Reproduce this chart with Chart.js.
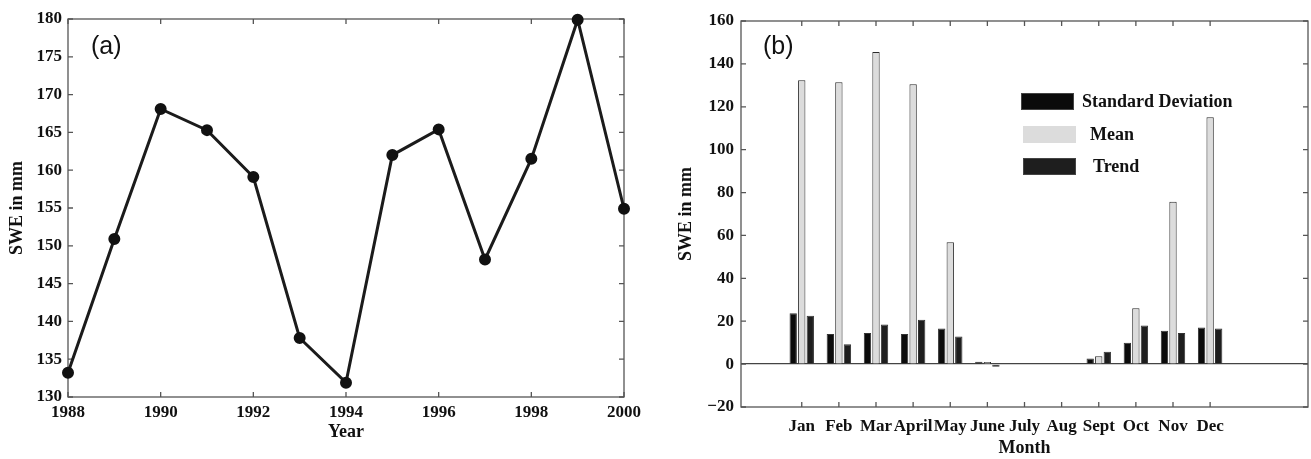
<!DOCTYPE html>
<html>
<head>
<meta charset="utf-8">
<script src="https://cdn.jsdelivr.net/npm/chart.js@4.4.1/dist/chart.umd.min.js"></script>
<style>
  body { margin: 0; background: #fff; }
  #wrap { position: relative; width: 1311px; height: 459px; }
  canvas { position: absolute; top: 0; }
  #swe { left: 0; }
  #monthly { left: 655px; }
</style>
</head>
<body>
<div id="wrap">
  <canvas id="swe" width="655" height="459"></canvas>
  <canvas id="monthly" width="656" height="459"></canvas>
</div>
<script>
// (a) annual SWE
const years = [1988, 1989, 1990, 1991, 1992, 1993, 1994, 1995, 1996, 1997, 1998, 1999, 2000];
const annualSwe = [133.2, 150.9, 168.1, 165.3, 159.1, 137.8, 131.9, 162.0, 165.4, 148.2, 161.5, 179.9, 154.9];
const yearTicks = [1988, 1990, 1992, 1994, 1996, 1998, 2000];

// (b) monthly stats
const months = ["Jan", "Feb", "Mar", "April", "May", "June", "July", "Aug", "Sept", "Oct", "Nov", "Dec"];
const stdDev = [23.7, 14.0, 14.5, 14.0, 16.6, 1.1, 0, 0, 2.6, 10.0, 15.6, 17.1];
const meanSwe = [132.4, 131.4, 145.6, 130.5, 56.8, 1.0, 0, 0, 3.7, 26.1, 75.7, 115.1];
const trend = [22.5, 9.3, 18.5, 20.7, 12.9, -1.2, 0, 0, 5.8, 18.0, 14.5, 16.6];

const serif = "'Liberation Serif', 'Times New Roman', serif";
const tickFont = { family: serif, size: 17, weight: "bold" };
const titleFont = { family: serif, size: 18, weight: "bold" };
const ink = "#111";

// box round the plot, with ticks pointing inwards on all four sides
const boxPlugin = {
  id: "box",
  beforeDatasetsDraw(chart, args, opts) {
    const { ctx, chartArea: a, scales } = chart;
    const len = 5;
    ctx.save();
    ctx.strokeStyle = "#555";
    ctx.lineWidth = 1.3;
    ctx.strokeRect(a.left, a.top, a.right - a.left, a.bottom - a.top);
    ctx.beginPath();
    scales.x.ticks.forEach(t => {
      const px = scales.x.getPixelForValue(t.value);
      ctx.moveTo(px, a.bottom); ctx.lineTo(px, a.bottom - len);
      ctx.moveTo(px, a.top); ctx.lineTo(px, a.top + len);
    });
    scales.y.ticks.forEach(t => {
      const py = scales.y.getPixelForValue(t.value);
      ctx.moveTo(a.left, py); ctx.lineTo(a.left + len, py);
      ctx.moveTo(a.right, py); ctx.lineTo(a.right - len, py);
    });
    ctx.stroke();
    if (opts.text) {
      ctx.font = "25px 'Liberation Sans', Arial, sans-serif";
      ctx.fillStyle = ink;
      ctx.textBaseline = "middle";
      ctx.fillText(opts.text, a.left + opts.dx, opts.y);
    }
    ctx.restore();
  }
};

// legend drawn inside the plot like the original figure
const boxLegend = {
  id: "boxLegend",
  afterDraw(chart, args, opts) {
    const ctx = chart.ctx;
    ctx.save();
    ctx.font = "bold 18px " + serif;
    ctx.textBaseline = "middle";
    chart.data.datasets.forEach((ds, i) => {
      const r = opts.rows[i];
      ctx.fillStyle = ds.backgroundColor;
      ctx.fillRect(r.x, r.y, 53, 17);
      if (i !== 1) {
        ctx.strokeStyle = "#444";
        ctx.lineWidth = 1;
        ctx.strokeRect(r.x + 0.5, r.y + 0.5, 52, 16);
      }
      ctx.fillStyle = ink;
      ctx.fillText(ds.label, r.tx, r.y + 9);
    });
    ctx.restore();
  }
};

new Chart(document.getElementById("swe"), {
  type: "line",
  data: {
    datasets: [{
      data: years.map((y, i) => ({ x: y, y: annualSwe[i] })),
      borderColor: "#1b1b1b",
      borderWidth: 3,
      pointRadius: 4.5,
      pointBackgroundColor: "#111",
      pointBorderColor: "#111",
      tension: 0,
      clip: false
    }]
  },
  options: {
    responsive: false,
    animation: false,
    devicePixelRatio: 1,
    layout: { padding: { left: 3, top: 19, right: 31, bottom: 12 } },
    plugins: {
      legend: { display: false },
      tooltip: { enabled: false },
      box: { text: "(a)", dx: 23, y: 47 }
    },
    scales: {
      x: {
        type: "linear",
        min: 1988,
        max: 2000,
        afterBuildTicks: s => { s.ticks = yearTicks.map(v => ({ value: v })); },
        afterFit: s => { s.height = 50; },
        ticks: { callback: v => String(v), padding: 5, font: tickFont, color: ink, maxRotation: 0, autoSkip: false },
        grid: { display: false, drawTicks: false },
        border: { display: false },
        title: { display: true, text: "Year", font: titleFont, color: ink, padding: { top: 0, bottom: 4 } }
      },
      y: {
        min: 130,
        max: 180,
        afterFit: s => { s.width = 65; },
        ticks: { stepSize: 5, padding: 6, font: tickFont, color: ink },
        grid: { display: false, drawTicks: false },
        border: { display: false },
        title: { display: true, text: "SWE in mm", font: titleFont, color: ink, padding: { top: 4, bottom: 4 } }
      }
    }
  },
  plugins: [boxPlugin]
});

const barStyle = { borderWidth: 1, borderSkipped: "start" };

new Chart(document.getElementById("monthly"), {
  type: "bar",
  data: {
    datasets: [
      { label: "Standard Deviation", data: months.map((m, i) => ({ x: i + 1, y: stdDev[i] })),
        backgroundColor: "#0b0b0b", borderColor: "#333", ...barStyle },
      { label: "Mean", data: months.map((m, i) => ({ x: i + 1, y: meanSwe[i] })),
        backgroundColor: "#dcdcdc", borderColor: "#2a2a2a", ...barStyle },
      { label: "Trend", data: months.map((m, i) => ({ x: i + 1, y: trend[i] })),
        backgroundColor: "#1e1e1e", borderColor: "#333", ...barStyle }
    ]
  },
  options: {
    responsive: false,
    animation: false,
    devicePixelRatio: 1,
    layout: { padding: { left: 17, top: 21, right: 3, bottom: 0 } },
    datasets: { bar: { categoryPercentage: 0.69, barPercentage: 0.86 } },
    plugins: {
      legend: { display: false },
      tooltip: { enabled: false },
      box: { text: "(b)", dx: 22, y: 47 },
      boxLegend: {
        rows: [
          { x: 366, y: 93, tx: 427 },
          { x: 368, y: 126, tx: 435 },
          { x: 368, y: 158, tx: 438 }
        ]
      }
    },
    scales: {
      x: {
        type: "linear",
        min: 0,
        max: 14,
        afterBuildTicks: s => { s.ticks = months.map((m, i) => ({ value: i + 1 })); },
        afterFit: s => { s.height = 52; },
        ticks: { callback: v => months[v - 1], padding: 9, font: tickFont, color: ink, maxRotation: 0, autoSkip: false },
        grid: { display: false, drawTicks: false },
        border: { display: false },
        title: { display: true, text: "Month", font: titleFont, color: ink, padding: { top: 0, bottom: 0 } }
      },
      y: {
        min: -20,
        max: 160,
        afterFit: s => { s.width = 69; },
        ticks: { stepSize: 20, padding: 7, font: tickFont, color: ink,
          callback: v => (v < 0 ? "\u2212" + Math.abs(v) : String(v)) },
        grid: { color: c => (c.tick && c.tick.value === 0 ? "#444" : "rgba(0,0,0,0)"), lineWidth: 1.3, drawTicks: false },
        border: { display: false },
        title: { display: true, text: "SWE in mm", font: titleFont, color: ink, padding: { top: 4, bottom: 4 } }
      }
    }
  },
  plugins: [boxPlugin, boxLegend]
});
</script>
</body>
</html>
